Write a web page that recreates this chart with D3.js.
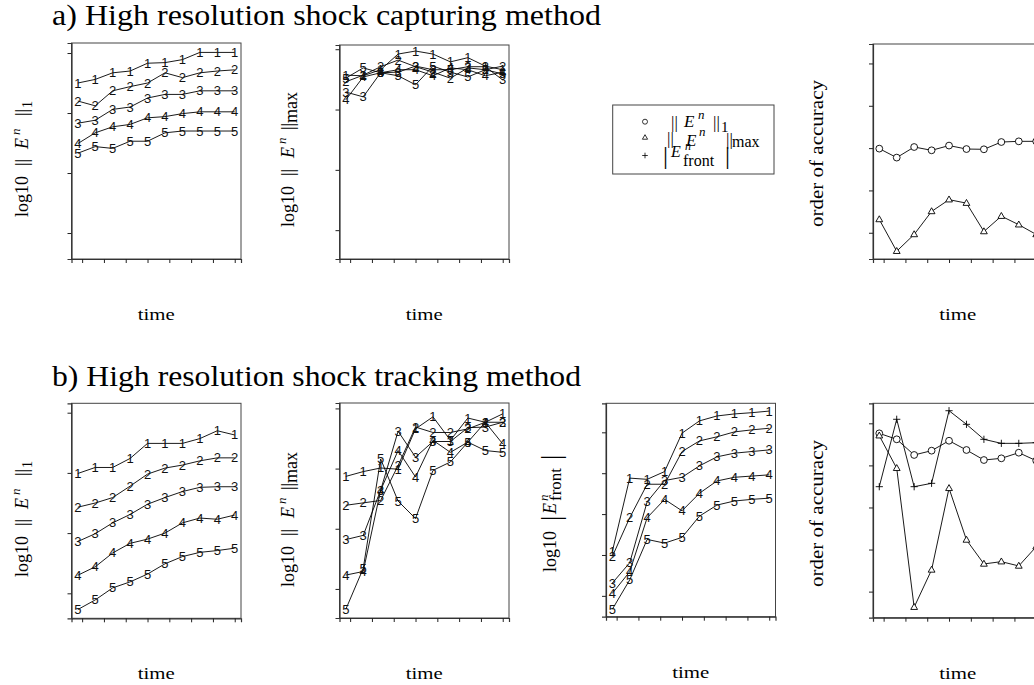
<!DOCTYPE html>
<html>
<head>
<meta charset="utf-8">
<script src="https://cdn.jsdelivr.net/npm/d3@7"></script>
<style>
  body { margin: 0; background: #fff; }
  svg { display: block; }
</style>
</head>
<body>
<svg id="fig" width="1034" height="685"></svg>
<script>
// ---- data ---------------------------------------------------------------
const times = [0.1, 0.2, 0.3, 0.4, 0.5, 0.6, 0.7, 0.8, 0.9, 1.0];
const timeTicks = [0.125, 0.25, 0.375, 0.5, 0.625, 0.75, 0.875, 1.0];
const levelLabels = ["1", "2", "3", "4", "5"];
const errorTicks = [-1, -2, -3, -4];
const frontTicks = [-1, -2, -3, -4, -5];
const orderTicks = [0.5, 1.0, 1.5, 2.0, 2.5];

// a) shock capturing: log10 of the L1 and max errors, one row per grid level
const capL1 = [
  [-1.50, -1.44, -1.33, -1.30, -1.17, -1.16, -1.11, -0.99, -0.99, -0.99],
  [-1.80, -1.88, -1.63, -1.56, -1.50, -1.33, -1.41, -1.33, -1.30, -1.28],
  [-2.17, -2.12, -1.94, -1.90, -1.75, -1.69, -1.69, -1.63, -1.63, -1.63],
  [-2.51, -2.33, -2.23, -2.19, -2.08, -2.06, -2.01, -1.98, -1.98, -1.98],
  [-2.67, -2.56, -2.59, -2.47, -2.47, -2.33, -2.30, -2.30, -2.30, -2.30]
];
const capMax = [
  [-1.43, -1.44, -1.34, -1.08, -1.03, -1.08, -1.21, -1.14, -1.28, -1.34],
  [-1.54, -1.43, -1.29, -1.18, -1.29, -1.38, -1.48, -1.31, -1.34, -1.28],
  [-1.71, -1.79, -1.39, -1.38, -1.28, -1.34, -1.34, -1.29, -1.29, -1.51],
  [-1.84, -1.46, -1.39, -1.34, -1.34, -1.44, -1.31, -1.34, -1.44, -1.38],
  [-1.48, -1.31, -1.39, -1.44, -1.59, -1.28, -1.38, -1.46, -1.34, -1.41]
];
const capOrderL1  = [1.494, 1.388, 1.513, 1.474, 1.530, 1.489, 1.486, 1.572, 1.580, 1.580];
const capOrderMax = [0.657, 0.282, 0.480, 0.752, 0.891, 0.850, 0.515, 0.696, 0.595, 0.480];

// b) shock tracking: L1, max and front-position errors
const trkL1 = [
  [-2.01, -1.91, -1.91, -1.76, -1.51, -1.51, -1.51, -1.43, -1.30, -1.37],
  [-2.57, -2.50, -2.41, -2.22, -2.02, -1.92, -1.87, -1.80, -1.75, -1.75],
  [-3.14, -3.01, -2.83, -2.69, -2.52, -2.41, -2.31, -2.24, -2.23, -2.23],
  [-3.70, -3.56, -3.33, -3.17, -3.10, -3.00, -2.83, -2.75, -2.77, -2.70],
  [-4.27, -4.11, -3.91, -3.81, -3.68, -3.51, -3.39, -3.32, -3.29, -3.25]
];
const trkMax = [
  [-2.13, -2.05, -1.99, -2.01, -1.34, -1.14, -1.53, -1.16, -1.23, -1.09],
  [-2.61, -2.57, -2.53, -1.95, -1.31, -1.40, -1.40, -1.34, -1.23, -1.23],
  [-3.18, -3.11, -2.36, -1.38, -1.81, -1.55, -1.55, -1.32, -1.31, -1.23],
  [-3.77, -3.71, -2.36, -1.70, -2.14, -1.53, -1.73, -1.56, -1.23, -1.59],
  [-4.34, -3.66, -1.84, -2.54, -2.83, -2.03, -1.89, -1.56, -1.70, -1.73]
];
const trkFront = [
  [-3.92, -2.12, -2.15, -1.96, -1.02, -0.72, -0.60, -0.55, -0.52, -0.48],
  [-4.04, -3.09, -2.27, -2.27, -1.47, -1.21, -1.11, -0.99, -0.94, -0.90],
  [-4.69, -4.19, -2.70, -2.18, -2.10, -1.82, -1.60, -1.51, -1.47, -1.43],
  [-4.94, -4.41, -3.09, -2.64, -2.92, -2.49, -2.19, -2.10, -2.07, -2.04],
  [-5.33, -4.61, -3.62, -3.71, -3.57, -3.05, -2.78, -2.68, -2.64, -2.61]
];
const trkOrderL1    = [2.381, 2.310, 2.124, 2.175, 2.293, 2.183, 2.064, 2.084, 2.151, 2.056];
const trkOrderMax   = [2.353, 1.966, 0.315, 0.758, 1.728, 1.114, 0.829, 0.856, 0.805, 1.034];
const trkOrderFront = [1.747, 2.548, 1.747, 1.787, 2.650, 2.488, 2.310, 2.262, 2.262, 2.270];

// ---- drawing ------------------------------------------------------------
const svg = d3.select("#fig");
const SERIF = "'Liberation Serif', 'Times New Roman', serif";
const SANS = "'Liberation Sans', Arial, sans-serif";
const timeDomain = [0.064, 1.036];
const PW = 169.5;

function symbolPath(kind, s) {
  if (kind === "circle") {
    return `M${s},0A${s},${s} 0 1,1 ${-s},0A${s},${s} 0 1,1 ${s},0Z`;
  }
  if (kind === "triangle") {
    const h = s * 1.75;
    return `M0,${-h * 0.62}L${s},${h * 0.38}L${-s},${h * 0.38}Z`;
  }
  return `M${-s},0H${s}M0,${-s}V${s}`; // plus
}

function drawPanel(p) {
  const g = svg.append("g");
  const x = d3.scaleLinear().domain(timeDomain).range([p.left, p.left + PW]);
  const y = d3.scaleLinear().domain(p.yDomain).range([p.top + p.height, p.top]);

  // data lines
  const line = d3.line().x((d, i) => x(times[i])).y(d => y(d));
  p.series.forEach(s => {
    g.append("path").attr("d", line(s.values))
      .attr("fill", "none").attr("stroke", "#000").attr("stroke-width", 0.9);
  });

  // point markers: grid-level digits or open symbols
  p.series.forEach(s => {
    const pts = g.append("g");
    s.values.forEach((v, i) => {
      if (s.label) {
        pts.append("text")
          .attr("x", x(times[i])).attr("y", y(v))
          .attr("text-anchor", "middle").attr("dominant-baseline", "central")
          .attr("font-family", SANS).attr("font-size", 13).attr("fill", "#111")
          .text(s.label);
      } else {
        pts.append("path")
          .attr("transform", `translate(${x(times[i])},${y(v)})`)
          .attr("d", symbolPath(s.symbol, s.symbol === "plus" ? 3.6 : 3.4))
          .attr("fill", s.symbol === "plus" ? "none" : "#fff")
          .attr("stroke", "#000").attr("stroke-width", 0.9);
      }
    });
  });

  // frame
  g.append("rect")
    .attr("x", p.left).attr("y", p.top).attr("width", PW).attr("height", p.height)
    .attr("fill", "none").attr("stroke", "#444").attr("stroke-width", 1);

  const ax = g.append("g").attr("transform", `translate(0,${p.top + p.height})`)
    .call(d3.axisBottom(x).tickValues(timeTicks).tickSize(4).tickFormat(""));
  const ay = g.append("g").attr("transform", `translate(${p.left},0)`)
    .call(d3.axisLeft(y).tickValues(p.yTicks).tickSize(4).tickFormat(""));
  [ax, ay].forEach(a => {
    a.select(".domain").attr("stroke", "#333").attr("stroke-width", 1.2);
    a.selectAll(".tick line").attr("stroke", "#222").attr("stroke-width", 1);
  });

  // x title
  g.append("text")
    .attr("x", p.left + PW / 2).attr("y", p.top + p.height + 61)
    .attr("text-anchor", "middle").attr("font-family", SERIF).attr("font-size", 17)
    .attr("textLength", 37).attr("lengthAdjust", "spacingAndGlyphs")
    .text("time");

  // rotated y title built from pieces (u: along reading direction, v: baseline shift)
  const yl = svg.append("g")
    .attr("transform", `translate(${p.labelX},${p.labelY}) rotate(-90)`)
    .attr("font-family", SERIF);
  p.labelPieces.forEach(pc => {
    const t = yl.append("text").attr("x", pc.u).attr("y", pc.v || 0)
      .attr("font-size", pc.size || 18).text(pc.t);
    if (pc.italic) t.attr("font-style", "italic");
    if (pc.len) t.attr("textLength", pc.len).attr("lengthAdjust", "spacingAndGlyphs");
  });
}

const levels = arr => arr.map((values, i) => ({ label: levelLabels[i], values }));

const l1Label = [
  { t: "log10", u: 0 }, { t: "||", u: 51 }, { t: "E", u: 68, italic: true },
  { t: "n", u: 82, v: -8, size: 13, italic: true }, { t: "||", u: 101 },
  { t: "1", u: 109, v: 4, size: 14 }
];
const maxLabel = [
  { t: "log10", u: 0 }, { t: "||", u: 51 }, { t: "E", u: 69, italic: true },
  { t: "n", u: 83, v: -8, size: 13, italic: true }, { t: "||", u: 97 },
  { t: "max", u: 104, v: 3, size: 18 }
];
const frontLabel = [
  { t: "log10", u: 0 }, { t: "|", u: 51, v: 4, size: 27 }, { t: "E", u: 58, italic: true },
  { t: "n", u: 71, v: -8, size: 13, italic: true },
  { t: "front", u: 71, v: 5, size: 17 }, { t: "|", u: 112, v: 4, size: 27 }
];
const orderLabel = [{ t: "order of accuracy", u: 0, size: 18, len: 147 }];

// a) High resolution shock capturing method
drawPanel({ left: 71.5, top: 43, height: 216, yDomain: [-4.433, -0.833], yTicks: errorTicks,
  series: levels(capL1), labelX: 28, labelY: 217, labelPieces: l1Label });
drawPanel({ left: 339.5, top: 45, height: 214, yDomain: [-4.478, -0.93], yTicks: errorTicks,
  series: levels(capMax), labelX: 294, labelY: 227, labelPieces: maxLabel });
drawPanel({ left: 873, top: 44, height: 215, yDomain: [0.19, 2.73], yTicks: orderTicks,
  series: [{ symbol: "circle", values: capOrderL1 }, { symbol: "triangle", values: capOrderMax }],
  labelX: 823, labelY: 227, labelPieces: orderLabel });

// b) High resolution shock tracking method
drawPanel({ left: 71.5, top: 403.3, height: 215, yDomain: [-4.415, -0.844], yTicks: errorTicks,
  series: levels(trkL1), labelX: 28, labelY: 577, labelPieces: l1Label });
drawPanel({ left: 339.5, top: 403, height: 215, yDomain: [-4.483, -0.91], yTicks: errorTicks,
  series: levels(trkMax), labelX: 294, labelY: 587, labelPieces: maxLabel });
drawPanel({ left: 606, top: 403.3, height: 213.4, yDomain: [-5.51, -0.29], yTicks: frontTicks,
  series: levels(trkFront), labelX: 556, labelY: 572, labelPieces: frontLabel });
drawPanel({ left: 873, top: 403.3, height: 214.4, yDomain: [0.19, 2.738], yTicks: orderTicks,
  series: [{ symbol: "circle", values: trkOrderL1 }, { symbol: "triangle", values: trkOrderMax },
           { symbol: "plus", values: trkOrderFront }],
  labelX: 823, labelY: 587, labelPieces: orderLabel });

// legend
const lg = svg.append("g").attr("font-family", SERIF);
lg.append("rect").attr("x", 612.7).attr("y", 105).attr("width", 161.3).attr("height", 69)
  .attr("fill", "#fff").attr("stroke", "#444").attr("stroke-width", 1);
[["circle", 121.7, 2.5], ["triangle", 137.5, 2.6], ["plus", 155.5, 2.8]].forEach(([k, yy, s]) => {
  lg.append("path").attr("transform", `translate(645,${yy})`).attr("d", symbolPath(k, s))
    .attr("fill", "none").attr("stroke", "#000").attr("stroke-width", 0.8);
});
const legendPieces = [
  { t: "||", x: 671, y: 128, size: 17 }, { t: "E", x: 684, y: 127, size: 17, italic: true },
  { t: "n", x: 698, y: 119, size: 13, italic: true }, { t: "||", x: 713, y: 128, size: 17 },
  { t: "1", x: 721, y: 132, size: 15 },
  { t: "||", x: 667, y: 144, size: 17 }, { t: "E", x: 686, y: 146, size: 17, italic: true },
  { t: "n", x: 699, y: 136, size: 13, italic: true }, { t: "||", x: 726, y: 145, size: 17 },
  { t: "max", x: 732, y: 147, size: 16 },
  { t: "|", x: 663, y: 164, size: 25 }, { t: "E", x: 671, y: 157, size: 16, italic: true },
  { t: "n", x: 685, y: 150, size: 12, italic: true }, { t: "front", x: 683, y: 166, size: 16 },
  { t: "|", x: 725, y: 164, size: 25 }
];
legendPieces.forEach(pc => {
  const t = lg.append("text").attr("x", pc.x).attr("y", pc.y).attr("font-size", pc.size).text(pc.t);
  if (pc.italic) t.attr("font-style", "italic");
});

// section titles
svg.append("text").attr("x", 52).attr("y", 25).attr("font-family", SERIF).attr("font-size", 29)
  .attr("textLength", 549).attr("lengthAdjust", "spacingAndGlyphs")
  .text("a) High resolution shock capturing method");
svg.append("text").attr("x", 52).attr("y", 386).attr("font-family", SERIF).attr("font-size", 29)
  .attr("textLength", 529).attr("lengthAdjust", "spacingAndGlyphs")
  .text("b) High resolution shock tracking method");
</script>
</body>
</html>
